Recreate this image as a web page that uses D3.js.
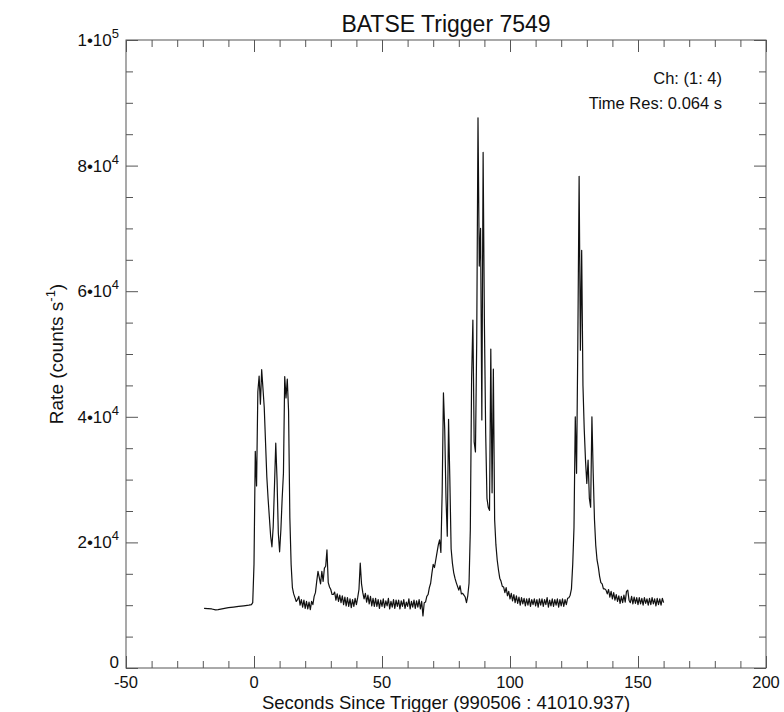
<!DOCTYPE html>
<html>
<head>
<meta charset="utf-8">
<script src="https://cdn.jsdelivr.net/npm/d3@7"></script>
<style>
  body { margin: 0; background: #fff; }
  svg { display: block; }
  text { font-family: "Liberation Sans", Arial, Helvetica, sans-serif; fill: #111; }
</style>
</head>
<body>
<svg id="chart" width="784" height="712"></svg>
<script>
// ---- text ----
const titleText = "BATSE Trigger 7549";
const xTitle = "Seconds Since Trigger (990506 : 41010.937)";
const yTitleMain = "Rate (counts s";
const yTitleSup = "-1";
const channelNote = "Ch: (1: 4)";
const resNote = "Time Res: 0.064 s";

// ---- axes ----
const xDomain = [-50, 200];
const yDomain = [0, 100000];
const xMajorTicks = [-50, 0, 50, 100, 150, 200];
const xMinorTicks = [-40, -30, -20, -10, 10, 20, 30, 40, 60, 70, 80, 90, 110, 120, 130, 140, 160, 170, 180, 190];
const yMajorTicks = [0, 20000, 40000, 60000, 80000, 100000];
const yMinorTicks = [5000, 10000, 15000, 25000, 30000, 35000, 45000, 50000, 55000, 65000, 70000, 75000, 85000, 90000, 95000];
const yTickMantissa = ["0", "2", "4", "6", "8", "1"];
const yTickExponent = [null, "4", "4", "4", "4", "5"];

// ---- light curve (rates in thousands of counts per second) ----
// pre-trigger background, coarse bins
const preTime = [-19.5, -18, -16.5, -15, -14, -12, -10, -8, -6, -4, -2, -1, -0.5];
const preRate = [9.5, 9.45, 9.4, 9.25, 9.3, 9.45, 9.6, 9.7, 9.8, 9.9, 10.0, 10.1, 10.4];

// post-trigger, one value per 0.5 s bin starting at t = 0
const burstStart = 0;
const burstBin = 0.5;
const burstRate = [
  16.5,34.5,29.0,44.0,46.5,42.0,47.5,44.5,41.5,36.0,30.5,27.0,24.0,21.0,19.3,22.5,29.0,35.8,30.0,21.5,   // 0-10 s
  18.5,22.0,27.0,31.0,46.4,43.0,46.0,41.0,24.0,16.5,12.8,11.8,11.2,10.6,10.9,11.4,10.0,10.9,9.7,10.8,    // 10-20 s
  9.5,10.6,9.4,10.5,9.3,10.6,10.1,11.4,12.0,13.8,15.4,14.4,13.4,15.4,13.8,15.9,16.2,18.8,13.6,12.9,      // 20-30 s
  12.5,11.7,11.7,12.1,10.8,11.8,10.6,11.6,10.4,11.5,10.1,11.3,9.9,11.2,9.8,11.0,9.6,10.9,9.8,11.1,       // 30-40 s
  10.1,11.2,12.5,16.7,13.4,12.0,11.0,11.9,10.5,11.6,10.2,11.4,9.9,11.1,9.8,11.1,9.8,10.9,9.5,10.8,       // 40-50 s
  9.8,11.0,9.6,10.7,9.9,11.1,9.4,10.6,9.7,10.9,9.5,10.8,9.8,10.8,9.4,10.7,9.8,10.9,9.5,10.5,            // 50-60 s
  9.8,11.0,9.4,10.6,9.7,10.8,9.5,10.7,9.7,10.9,9.4,10.6,8.3,10.4,10.5,11.4,11.7,12.8,13.5,15.1,         // 60-70 s
  16.5,16.0,17.2,18.4,19.6,20.4,18.4,28.0,43.8,38.0,27.0,21.0,39.6,30.0,19.0,16.7,15.2,14.3,13.6,13.0,   // 70-80 s
  12.4,13.1,11.8,11.9,11.6,11.3,10.4,11.5,13.5,22.0,46.0,55.4,36.0,34.4,52.0,87.6,64.0,70.0,39.5,82.1,   // 80-90 s
  55.0,37.4,27.0,25.6,25.1,50.8,27.9,47.6,23.6,19.6,17.2,15.6,14.3,13.8,13.0,12.9,12.0,12.8,11.5,12.2,   // 90-100 s
  11.0,11.9,10.7,11.7,10.4,11.5,10.3,11.3,10.0,11.2,10.2,11.1,9.9,11.0,10.0,11.1,9.8,10.9,10.1,11.0,     // 100-110 s
  9.9,10.9,9.7,11.0,10.0,11.0,9.8,10.9,10.1,11.2,9.7,10.8,9.9,11.0,9.8,10.9,10.0,11.0,9.7,10.9,         // 110-120 s
  9.9,11.0,9.8,10.9,10.1,11.1,11.2,11.6,12.6,16.5,22.4,40.0,31.0,52.0,78.3,50.6,66.5,45.0,38.0,33.0,    // 120-130 s
  29.4,33.1,27.0,25.6,40.0,31.0,23.6,19.5,17.2,16.1,14.6,13.6,13.4,12.6,12.6,12.4,11.8,12.5,11.3,12.2,  // 130-140 s
  11.0,12.0,10.8,11.7,10.6,11.5,10.3,11.4,10.4,11.6,10.5,12.2,12.4,10.8,10.4,11.4,10.2,11.3,10.3,11.2,  // 140-150 s
  10.1,11.2,10.2,11.1,10.0,11.2,10.3,11.0,10.0,11.1,10.1,11.2,10.2,11.0,9.9,11.1,10.1,11.0,10.0,11.1,   // 150-160 s
  10.4
];

// ---- layout ----
const svg = d3.select("#chart");
const plot = { left: 126, right: 766, top: 40, bottom: 668 };

const x = d3.scaleLinear().domain(xDomain).range([plot.left, plot.right]);
const y = d3.scaleLinear().domain(yDomain).range([plot.bottom, plot.top]);

const points = preTime.map((t, i) => ({ t, r: preRate[i] * 1000 }))
  .concat(burstRate.map((r, i) => ({ t: burstStart + i * burstBin, r: r * 1000 })));

// ---- frame ----
svg.append("rect")
  .attr("x", plot.left).attr("y", plot.top)
  .attr("width", plot.right - plot.left).attr("height", plot.bottom - plot.top)
  .attr("fill", "none").attr("stroke", "#555").attr("stroke-width", 1);

// inward ticks on all four sides, drawn with d3 axes
function tickAxis(axisFn, scale, values, size, transform) {
  const g = svg.append("g").attr("transform", transform)
    .call(axisFn(scale).tickValues(values).tickSize(-size).tickFormat(""));
  g.select(".domain").remove();
  g.selectAll(".tick line").attr("stroke", "#555");
  return g;
}
tickAxis(d3.axisBottom, x, xMajorTicks, 12, `translate(0,${plot.bottom})`);
tickAxis(d3.axisBottom, x, xMinorTicks, 7, `translate(0,${plot.bottom})`);
tickAxis(d3.axisTop, x, xMajorTicks, 12, `translate(0,${plot.top})`);
tickAxis(d3.axisTop, x, xMinorTicks, 7, `translate(0,${plot.top})`);
tickAxis(d3.axisLeft, y, yMajorTicks, 12, `translate(${plot.left},0)`);
tickAxis(d3.axisLeft, y, yMinorTicks, 7, `translate(${plot.left},0)`);
tickAxis(d3.axisRight, y, yMajorTicks, 12, `translate(${plot.right},0)`);
tickAxis(d3.axisRight, y, yMinorTicks, 7, `translate(${plot.right},0)`);

// x tick labels
svg.append("g").selectAll("text").data(xMajorTicks).join("text")
  .attr("x", d => x(d)).attr("y", plot.bottom + 20)
  .attr("text-anchor", "middle").attr("font-size", 16.5)
  .text(d => d);

// y tick labels in IDL style: m•10^e (the zero label sits on the bottom edge)
const yLab = svg.append("g").selectAll("text").data(yMajorTicks).join("text")
  .attr("x", plot.left - 7).attr("y", d => Math.min(y(d) + 6, plot.bottom))
  .attr("text-anchor", "end").attr("font-size", 17);
yLab.each(function (d, i) {
  const t = d3.select(this);
  if (yTickExponent[i] === null) {
    t.text(yTickMantissa[i]);
  } else {
    t.append("tspan").text(yTickMantissa[i] + "\u202210");
    t.append("tspan").attr("dy", -8).attr("font-size", 13).text(yTickExponent[i]);
  }
});

// ---- light curve ----
const line = d3.line().x(d => x(d.t)).y(d => y(d.r));
svg.append("path").datum(points)
  .attr("d", line)
  .attr("fill", "none").attr("stroke", "#111").attr("stroke-width", 1.2)
  .attr("stroke-linejoin", "round");

// ---- titles and notes ----
svg.append("text").attr("x", (plot.left + plot.right) / 2).attr("y", 32)
  .attr("text-anchor", "middle").attr("font-size", 23).text(titleText);

svg.append("text").attr("x", (plot.left + plot.right) / 2).attr("y", 709)
  .attr("text-anchor", "middle").attr("font-size", 18.5).text(xTitle);

const yt = svg.append("text")
  .attr("transform", `translate(63,${(plot.top + plot.bottom) / 2}) rotate(-90)`)
  .attr("text-anchor", "middle").attr("font-size", 19);
yt.append("tspan").text(yTitleMain);
yt.append("tspan").attr("dy", -8).attr("font-size", 13).text(yTitleSup);
yt.append("tspan").attr("dy", 8).text(")");

svg.append("text").attr("x", 722).attr("y", 84)
  .attr("text-anchor", "end").attr("font-size", 16.5).text(channelNote);
svg.append("text").attr("x", 722).attr("y", 109)
  .attr("text-anchor", "end").attr("font-size", 16.5).text(resNote);
</script>
</body>
</html>
